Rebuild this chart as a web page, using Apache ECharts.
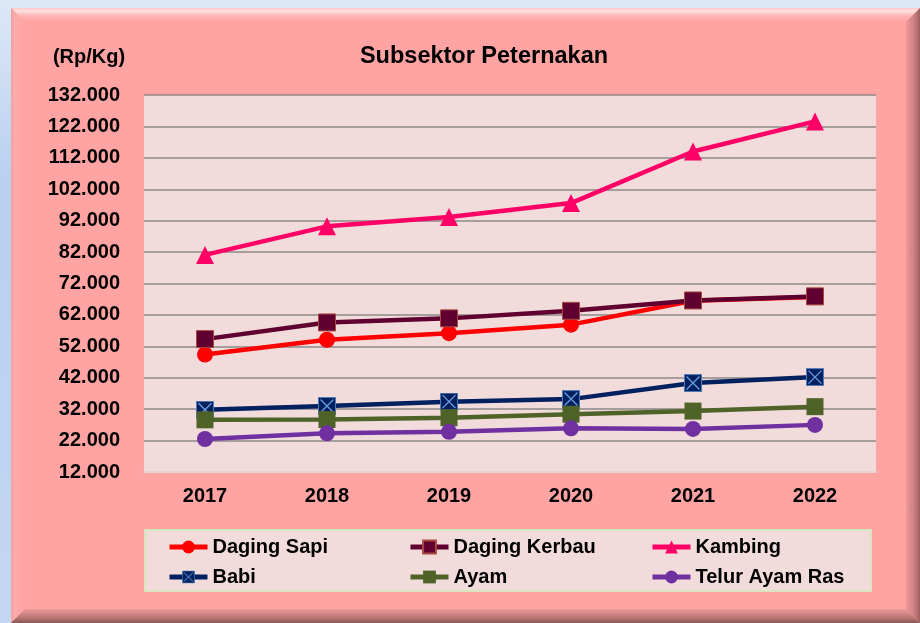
<!DOCTYPE html>
<html>
<head>
<meta charset="utf-8">
<script src="https://cdn.jsdelivr.net/npm/echarts@6/dist/echarts.min.js"></script>
<style>
  html, body { margin: 0; padding: 0; }
  body { width: 920px; height: 623px; position: relative; overflow: hidden;
         background: linear-gradient(to bottom, #dce8f8, #b8cfee 30%, #c4d7f2); }
  #panel { position: absolute; left: 11px; top: 8px; width: 909px; height: 615px; background: #ffa3a3; }
  .bev { position: absolute; left: 0; top: 0; width: 100%; height: 100%; }
  #bt { clip-path: polygon(0 0, 100% 0, calc(100% - 14px) 14px, 14px 14px);
        background: linear-gradient(to bottom, #ffc9c9 0px, #ffe0e0 3px, #ffb4b4 8px, #ffa3a3 14px); }
  #bl { clip-path: polygon(0 0, 14px 14px, 14px calc(100% - 14px), 0 100%);
        background: linear-gradient(to right, #f3a0a0 0px, #fbacac 4px, #ffa3a3 14px); }
  #br { clip-path: polygon(100% 0, 100% 100%, calc(100% - 14px) calc(100% - 14px), calc(100% - 14px) 14px);
        background: linear-gradient(to left, #9c5e5e 0px, #c77c7c 5px, #f09a9a 14px); }
  #bb { clip-path: polygon(0 100%, 14px calc(100% - 14px), calc(100% - 14px) calc(100% - 14px), 100% 100%);
        background: linear-gradient(to top, #8a5656 0px, #b87474 5px, #f09a9a 14px); }
  #chart { position: absolute; left: 0; top: 0; width: 920px; height: 623px; }
</style>
</head>
<body>
<div id="panel">
  <div class="bev" id="bt"></div>
  <div class="bev" id="bl"></div>
  <div class="bev" id="br"></div>
  <div class="bev" id="bb"></div>
</div>
<div id="chart"></div>
<script>
const years = ['2017', '2018', '2019', '2020', '2021', '2022'];
const dagingSapi   = [49400, 54100, 56200, 58900, 66500, 67700];
const dagingKerbau = [54300, 59600, 60900, 63300, 66600, 67900];
const kambing      = [81100, 90200, 93200, 97600, 114000, 123600];
const babi         = [31800, 33000, 34400, 35200, 40300, 42200];
const ayam         = [28600, 28700, 29300, 30400, 31400, 32800];
const telurAyamRas = [22500, 24300, 24800, 25900, 25700, 27000];
const titleText = 'Subsektor Peternakan';
const unitText = '(Rp/Kg)';

const FONT = "'Liberation Sans', Arial, sans-serif";
const fmt = v => String(v).replace(/\B(?=(\d{3})+(?!\d))/g, '.');

const babiSvg = "<svg xmlns='http://www.w3.org/2000/svg' width='18' height='18' viewBox='0 0 18 18'>" +
  "<rect x='0.5' y='0.5' width='17' height='17' fill='#002060' stroke='#4a7ebb' stroke-width='1'/>" +
  "<path d='M2.5 2.5L15.5 15.5M15.5 2.5L2.5 15.5' stroke='#6a9ee0' stroke-width='1.4'/></svg>";
const babiSymbol = 'image://data:image/svg+xml;charset=utf-8,' + encodeURIComponent(babiSvg);

function mk(name, data, color, symbol, size, extraItem) {
  return {
    name, type: 'line', data,
    symbol, symbolSize: size,
    lineStyle: { color, width: 4.5 },
    itemStyle: Object.assign({ color }, extraItem || {}),
    emphasis: { disabled: true }
  };
}

const chart = echarts.init(document.getElementById('chart'), null, { renderer: 'canvas' });
const legendText = { fontSize: 20, fontWeight: 'bold', color: '#000', fontFamily: FONT };
const legendBase = { orient: 'vertical', top: 537, itemGap: 10, itemWidth: 38, itemHeight: 16, padding: 0,
  textStyle: legendText, lineStyle: { width: 5 } };

chart.setOption({
  animation: false,
  backgroundColor: 'transparent',
  title: [
    { text: titleText, left: 479, top: 40, textAlign: 'center',
      textStyle: { fontSize: 23.5, fontWeight: 'bold', color: '#000', fontFamily: FONT } },
    { text: unitText, left: 84, top: 42, textAlign: 'center',
      textStyle: { fontSize: 20, fontWeight: 'bold', color: '#000', fontFamily: FONT } }
  ],
  graphic: [
    { type: 'rect', shape: { x: 145, y: 530, width: 726, height: 61 },
      style: { fill: '#F2DCDB', stroke: '#d9e5bf', lineWidth: 2 }, z: -1 }
  ],
  grid: { left: 144, right: 44, top: 95, bottom: 151, show: true, backgroundColor: '#F2DCDB', borderWidth: 0 },
  xAxis: {
    type: 'category', data: years, boundaryGap: true,
    axisLine: { show: true, lineStyle: { color: '#e2d4d4', width: 2 } },
    axisTick: { show: false },
    axisLabel: { margin: 14, fontSize: 20, fontWeight: 'bold', color: '#000', fontFamily: FONT }
  },
  yAxis: {
    type: 'value', min: 12000, max: 132000, interval: 10000,
    axisLine: { show: false }, axisTick: { show: false },
    splitLine: { lineStyle: { color: '#8c8888', width: 1.5 } },
    axisLabel: { margin: 24, fontSize: 20, fontWeight: 'bold', color: '#000', fontFamily: FONT, formatter: fmt }
  },
  legend: [
    Object.assign({ left: 167, data: ['Daging Sapi', 'Babi'] }, legendBase),
    Object.assign({ left: 408, data: ['Daging Kerbau', 'Ayam'] }, legendBase),
    Object.assign({ left: 650, data: ['Kambing', 'Telur Ayam Ras'] }, legendBase)
  ],
  series: [
    mk('Daging Sapi', dagingSapi, '#ff0000', 'circle', 16),
    mk('Daging Kerbau', dagingKerbau, '#600030', 'rect', 17, { borderColor: '#a8483f', borderWidth: 1 }),
    mk('Kambing', kambing, '#ff0066', 'triangle', 18),
    mk('Babi', babi, '#002060', babiSymbol, 18),
    mk('Ayam', ayam, '#4f6228', 'rect', 17),
    mk('Telur Ayam Ras', telurAyamRas, '#7030a0', 'circle', 16)
  ]
});
</script>
</body>
</html>
